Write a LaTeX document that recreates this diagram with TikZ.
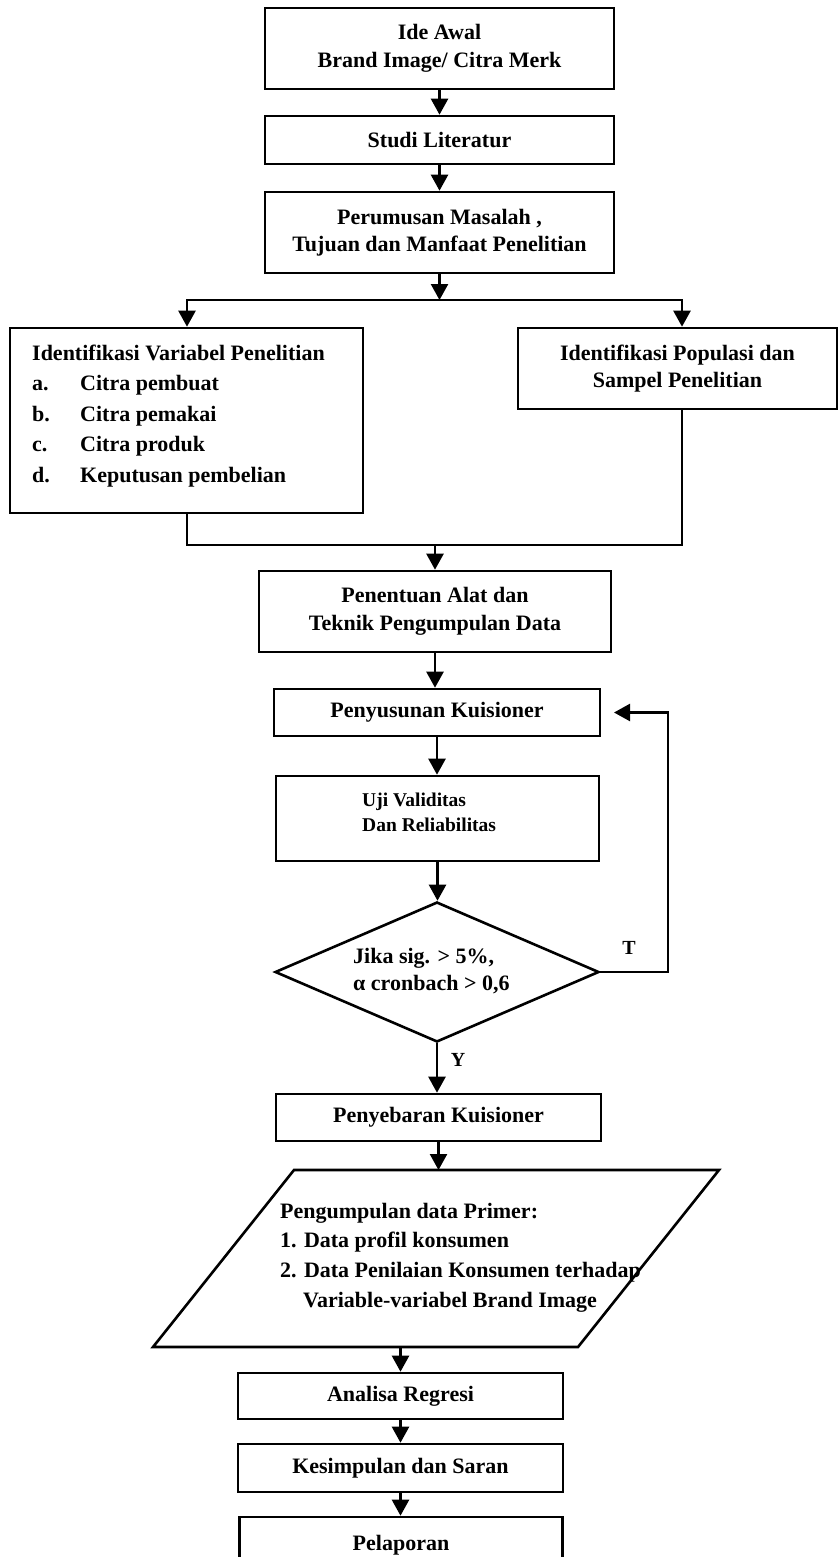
\documentclass[tikz,border=0pt]{standalone}
\usepackage{fontspec}
\setmainfont{Liberation Serif}
\usetikzlibrary{arrows.meta,shapes.geometric}
\begin{document}
\begin{tikzpicture}[x=1pt,y=-1pt,
  box/.style={draw, line width=2.6pt, inner sep=0pt, align=center,
    font=\bfseries\fontsize{22}{27.5}\selectfont},
  conn/.style={line width=2.4pt, line join=miter},
  arr/.style={conn, -{Triangle[length=16pt,width=17pt]}},
  txt/.style={inner sep=0pt, align=left, anchor=west},
  lab/.style={inner sep=0pt, font=\bfseries\fontsize{20}{24}\selectfont}
]
\useasboundingbox (0,0) rectangle (839,1557);
\clip (0,0) rectangle (839,1557);

% boxes
\node[box, minimum width=349pt, minimum height=81pt] (ide) at (439.5,48.5) {Ide Awal\\Brand Image/ Citra Merk};
\node[box, minimum width=349pt, minimum height=48pt] (studi) at (439.5,140) {Studi Literatur};
\node[box, minimum width=349pt, minimum height=81pt] (rumus) at (439.5,232.5) {Perumusan Masalah ,\\Tujuan dan Manfaat Penelitian};

\node[box, minimum width=353pt, minimum height=185pt] (var) at (186.5,420.5) {};
\node[txt, font=\bfseries\fontsize{22}{30.5}\selectfont] (vartxt) at (32,416)
  {Identifikasi Variabel Penelitian\\
   \makebox[48pt][l]{a.}Citra pembuat\\
   \makebox[48pt][l]{b.}Citra pemakai\\
   \makebox[48pt][l]{c.}Citra produk\\
   \makebox[48pt][l]{d.}Keputusan pembelian};
\node[box, minimum width=319pt, minimum height=81pt] (pop) at (677.5,368.5) {Identifikasi Populasi dan\\Sampel Penelitian};

\node[box, minimum width=352pt, minimum height=81pt] (alat) at (435,611.5) {Penentuan Alat dan\\Teknik Pengumpulan Data};
\node[box, minimum width=326pt, minimum height=47pt] (susun) at (437,712.5) {Penyusunan Kuisioner};
\node[box, minimum width=323pt, minimum height=85pt] (uji) at (437.5,818.5) {};
\node[txt, font=\bfseries\fontsize{19.5}{25}\selectfont] (ujitxt) at (362,812.5) {Uji Validitas\\Dan Reliabilitas};

\node[draw, diamond, line width=2.6pt, minimum width=324pt, minimum height=140pt, inner sep=0pt] (dia) at (437,972) {};
\node[txt, font=\bfseries\fontsize{22}{27}\selectfont] (diatxt) at (353,971.5) {Jika sig. > 5\%,\\α cronbach > 0,6};

\node[box, minimum width=325pt, minimum height=47pt] (sebar) at (438.5,1117.5) {Penyebaran Kuisioner};

% parallelogram
\coordinate (p1) at (294,1170);
\coordinate (p2) at (719,1170);
\coordinate (p3) at (578,1347);
\coordinate (p4) at (153,1347);
\draw[line width=2.6pt, line join=miter] (p1) -- (p2) -- (p3) -- (p4) -- cycle;
\coordinate (ptop) at (438.5,1170);
\coordinate (pbot) at (400.5,1347);
\node[txt, font=\bfseries\fontsize{22}{29.6}\selectfont] (paratxt) at (280,1257.5)
  {Pengumpulan data Primer:\\
   1. Data profil konsumen\\
   2. Data Penilaian Konsumen terhadap\\
   \hspace*{23pt}Variable-variabel Brand Image};

\node[box, minimum width=325pt, minimum height=46pt] (anal) at (400.5,1396) {Analisa Regresi};
\node[box, minimum width=325pt, minimum height=48pt] (kesim) at (400.5,1468) {Kesimpulan dan Saran};
\node[box, minimum width=323pt, minimum height=56pt] (lapor) at (401,1545) {Pelaporan};

% connectors
\draw[arr] (ide.south) -- (studi.north);
\draw[arr] (studi.south) -- (rumus.north);
\coordinate (jt) at (439.5,300);
\coordinate (jl) at (187,300);
\coordinate (jr) at (682,300);
\draw[arr] (rumus.south) -- (jt);
\draw[arr] (jr) -- (jl) -- (jl |- var.north);
\draw[arr] (jl) -- (jr) -- (jr |- pop.north);

\coordinate (kl) at (187,545);
\coordinate (kr) at (682,545);
\coordinate (kt) at (435,545);
\draw[conn] (var.south -| kl) -- (kl) -- (kr) -- (pop.south -| kr);
\draw[arr] (kt) -- (alat.north);

\draw[arr] (alat.south) -- (alat.south |- susun.north);
\draw[arr] (susun.south) -- (susun.south |- uji.north);
\draw[arr] (uji.south) -- (uji.south |- dia.north);
\draw[arr] (dia.south) -- (dia.south |- sebar.north);
\draw[arr] (sebar.south) -- (ptop);
\draw[arr] (pbot) -- (anal.north);
\draw[arr] (anal.south) -- (kesim.north);
\draw[arr] (kesim.south) -- (kesim.south |- lapor.north);

\coordinate (fbx) at (668,972);
\coordinate (fbtip) at (614,712.5);
\draw[arr] (dia.east) -- (fbx) -- (fbx |- fbtip) -- (fbtip);

\node[lab] (tlab) at (629,948) {T};
\node[lab] (ylab) at (458,1060) {Y};
\end{tikzpicture}
\end{document}
